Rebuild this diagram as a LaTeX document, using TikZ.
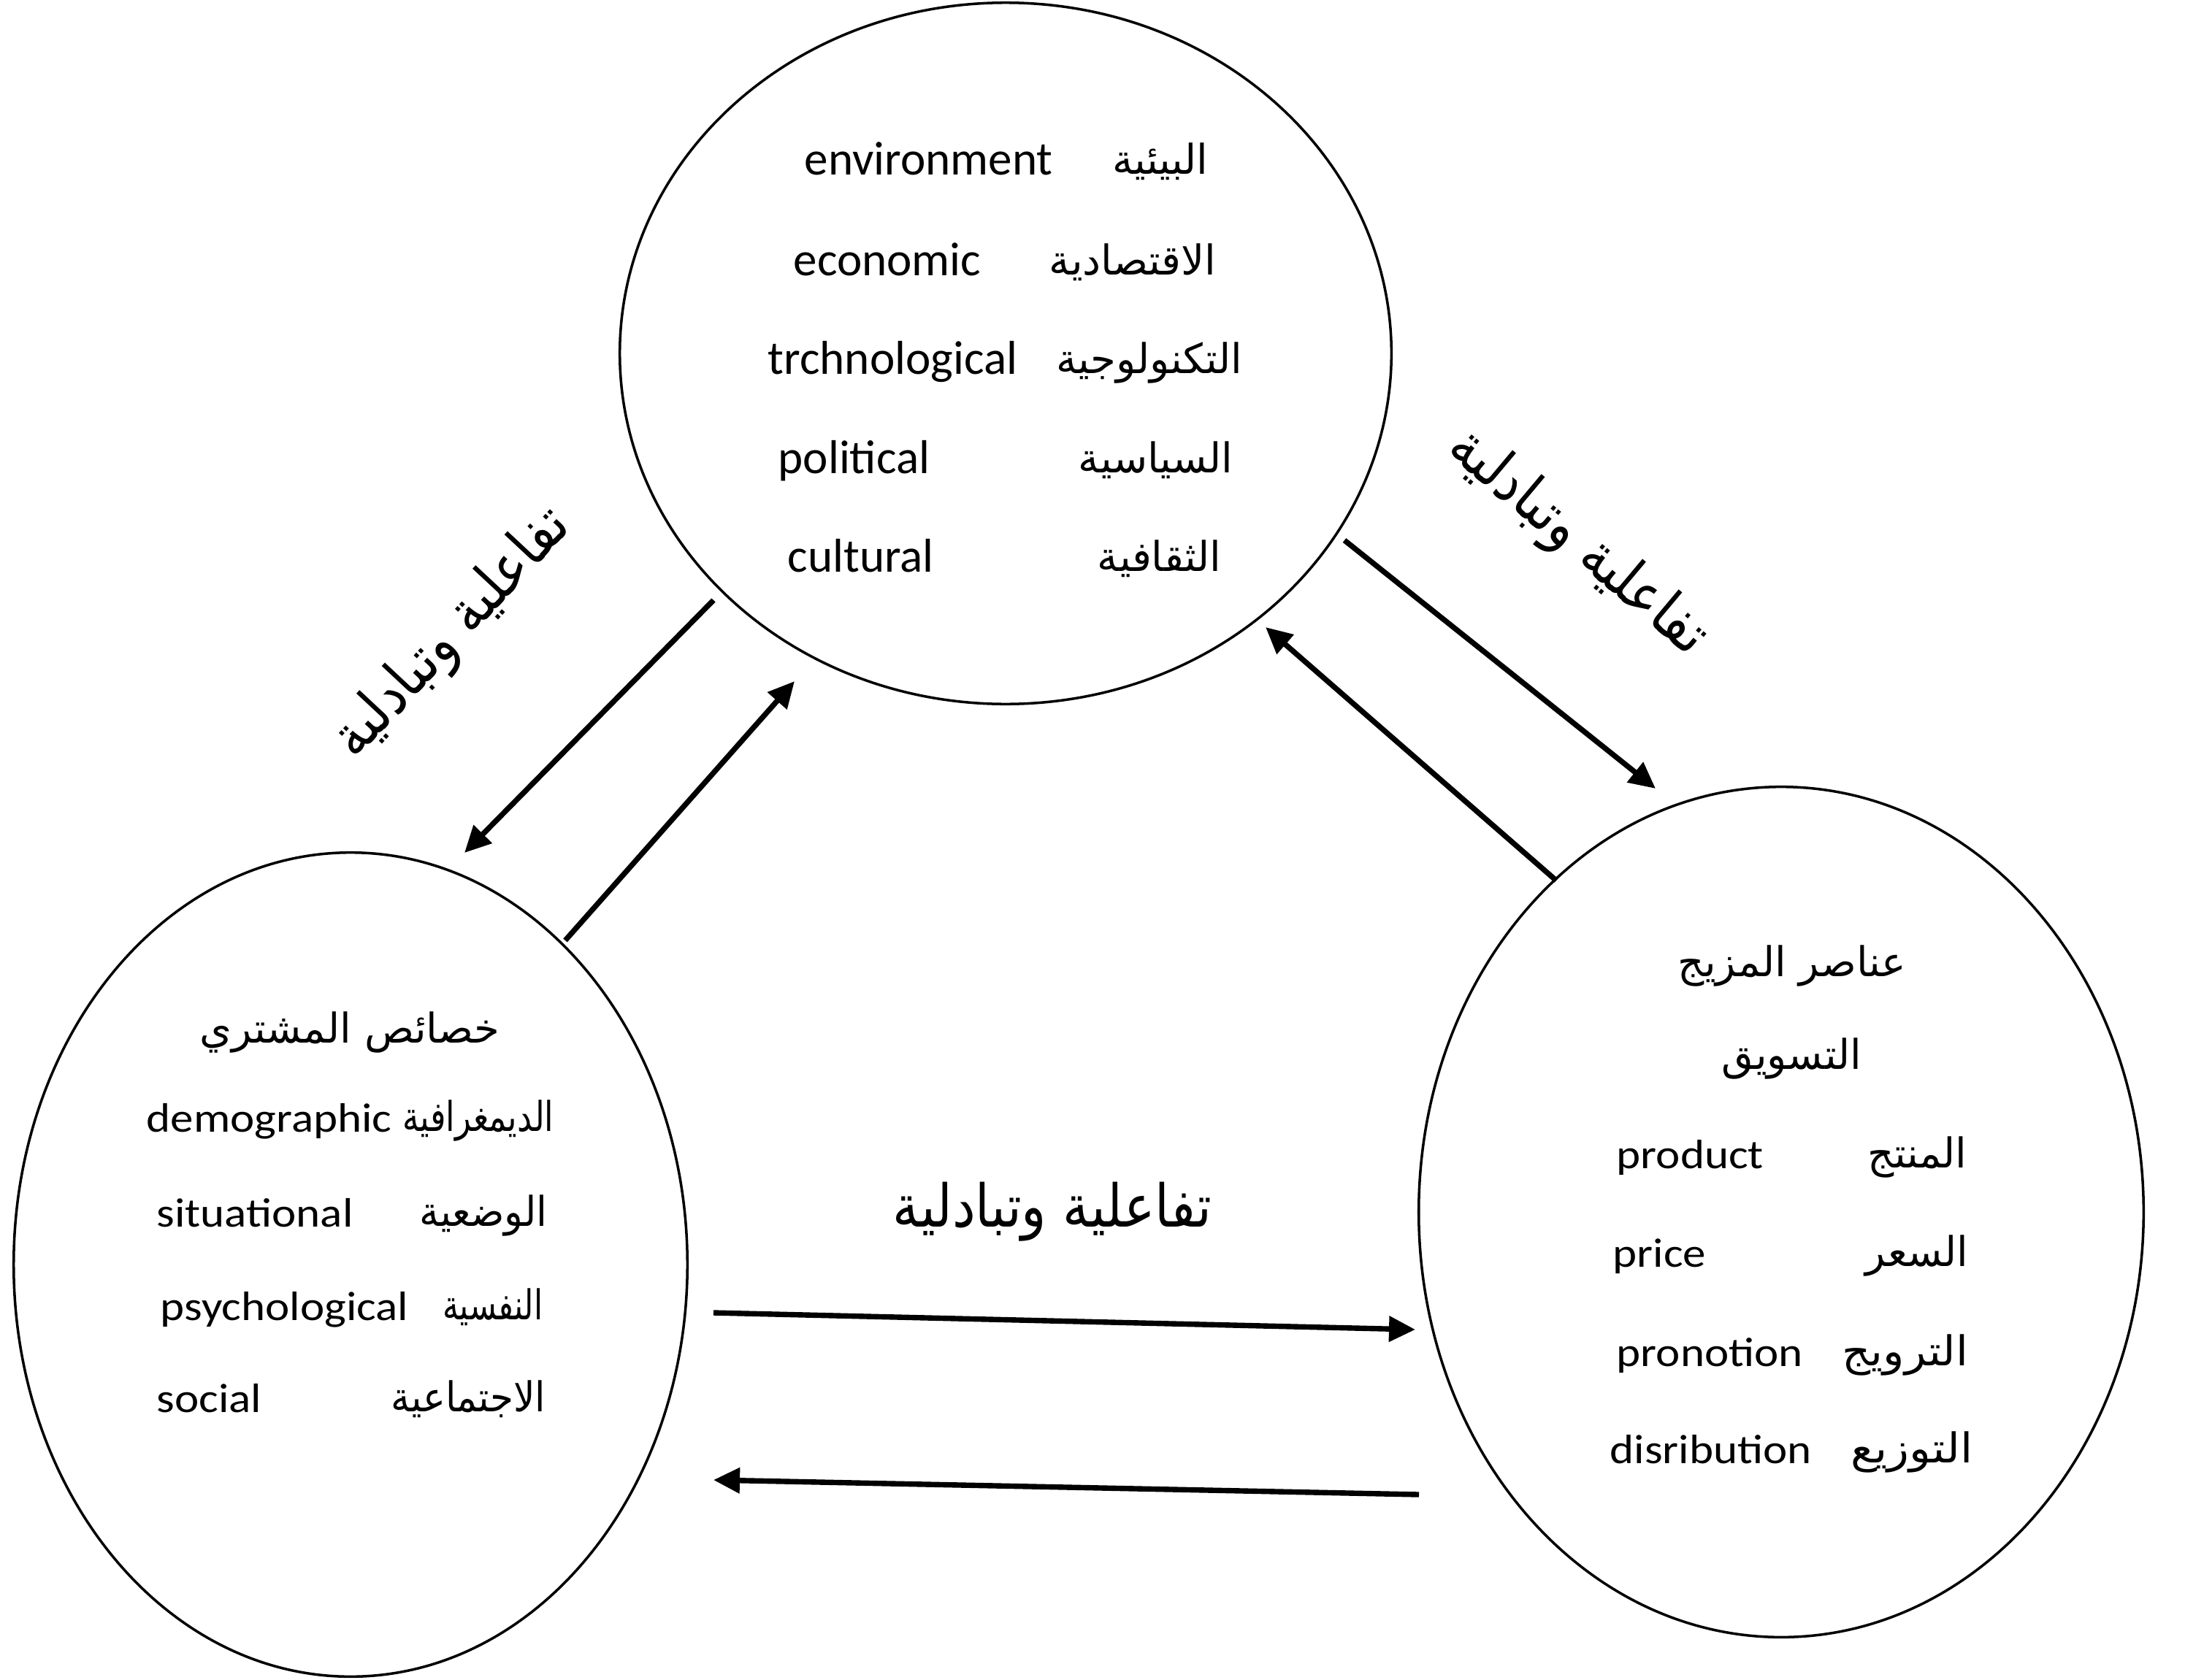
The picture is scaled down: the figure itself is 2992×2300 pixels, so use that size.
\documentclass[tikz,border=0pt]{standalone}
\usepackage{fontspec}
\setmainfont{Carlito}
\newfontfamily\widefont[FakeStretch=1.12]{Carlito}
\newfontfamily\arabicfont[Script=Arabic]{DejaVu Sans}
\usetikzlibrary{shapes.geometric,arrows.meta}
\TeXXeTstate=1
\newcommand{\ar}[1]{\arabicfont\beginR #1\endR}
\newcommand{\arn}[2]{\scalebox{#1}[1]{\ar{#2}}}
\begin{document}
\begin{tikzpicture}[x=0.01cm,y=-0.01cm,
  circ/.style={draw,ellipse,line width=1pt,inner sep=0pt,outer sep=0pt},
  link/.style={line width=2.1pt,-{Triangle[length=0.36cm,width=0.34cm]}},
  entxt/.style={anchor=mid west,inner sep=0pt,yshift=-0.12cm,font=\fontsize{18.5}{22}\selectfont},
  sidetxt/.style={anchor=mid west,inner sep=0pt,yshift=-0.12cm,font=\widefont\fontsize{16}{20}\selectfont},
  artxt/.style={anchor=mid east,inner sep=0pt,yshift=-0.11cm,font=\fontsize{16}{20}\selectfont},
  arctr/.style={anchor=mid,inner sep=0pt,yshift=-0.12cm,font=\fontsize{16}{20}\selectfont},
  bigar/.style={inner sep=0pt,font=\fontsize{23}{28}\selectfont}]
\useasboundingbox (0,0) rectangle (2992,2300);

% the three circles
\node[circ,minimum width=10.56cm,minimum height=9.6cm] (env) at (1377,484) {};
\node[circ,minimum width=9.22cm,minimum height=11.28cm] (buyer) at (480,1732) {};
\node[circ,minimum width=9.92cm,minimum height=11.64cm] (mix) at (2439,1660) {};

% environment factors
\node[entxt] (e1) at (1101,219) {environment};
\node[entxt] (e2) at (1086,357) {economic};
\node[entxt] (e3) at (1051,492) {trchnological};
\node[entxt] (e4) at (1065,628) {political};
\node[entxt] (e5) at (1078,763) {cultural};
\node[artxt] (a1) at (1655,219) {\ar{البيئية}};
\node[artxt] (a2) at (1666,357) {\ar{الاقتصادية}};
\node[artxt] (a3) at (1702,492) {\ar{التكنولوجية}};
\node[artxt] (a4) at (1689,628) {\ar{السياسية}};
\node[artxt] (a5) at (1673,763) {\ar{الثقافية}};

% buyer characteristics
\node[arctr] (bt) at (479,1408) {\arabicfont\beginR خصائص المشتري\endR};
\node[sidetxt] (b1) at (200,1530) {demographic};
\node[sidetxt] (b2) at (214,1660) {situational};
\node[sidetxt] (b3) at (219,1788) {psychological};
\node[sidetxt] (b4) at (214,1914) {social};
\node[artxt] (c1) at (759,1530) {\arn{0.8}{الديمغرافية}};
\node[artxt] (c2) at (750,1660) {\arn{0.95}{الوضعية}};
\node[artxt] (c3) at (744,1788) {\arn{0.78}{النفسية}};
\node[artxt] (c4) at (748,1914) {\arn{0.92}{الاجتماعية}};

% marketing mix elements
\node[arctr] (mt1) at (2454,1317) {\arabicfont\beginR عناصر المزيج\endR};
\node[arctr] (mt2) at (2453,1444) {\ar{التسويق}};
\node[sidetxt] (m1) at (2213,1580) {product};
\node[sidetxt] (m2) at (2208,1715) {price};
\node[sidetxt] (m3) at (2213,1851) {pronotion};
\node[sidetxt] (m4) at (2204,1984) {disribution};
\node[artxt] (n1) at (2694,1580) {\ar{المنتج}};
\node[artxt] (n2) at (2696,1715) {\ar{السعر}};
\node[artxt] (n3) at (2696,1851) {\arn{1.08}{الترويج}};
\node[artxt] (n4) at (2702,1984) {\arn{1.1}{التوزيع}};

% interaction labels
\node[bigar,rotate=47] (l1) at (620,868)
  {\scalebox{0.88}[1]{\arabicfont\beginR تفاعلية وتبادلية\endR}};
\node[bigar,rotate=-40] (l2) at (2160,744)
  {\scalebox{0.88}[1]{\arabicfont\beginR تفاعلية وتبادلية\endR}};
\node[bigar] (l3) at (1441,1660)
  {\scalebox{0.88}[1]{\arabicfont\beginR تفاعلية وتبادلية\endR}};

% arrow end points
\coordinate (p1s) at (977,822);
\coordinate (p1e) at (636,1168);
\coordinate (p2s) at (774,1288);
\coordinate (p2e) at (1088,933);
\coordinate (p3s) at (1841,740);
\coordinate (p3e) at (2267,1080);
\coordinate (p4s) at (2131,1206);
\coordinate (p4e) at (1733,859);
\coordinate (p5s) at (977,1798);
\coordinate (p5e) at (1938,1821);
\coordinate (p6s) at (1943,2047);
\coordinate (p6e) at (977,2027);

\draw[link] (p1s) -- (p1e);
\draw[link] (p2s) -- (p2e);
\draw[link] (p3s) -- (p3e);
\draw[link] (p4s) -- (p4e);
\draw[link] (p5s) -- (p5e);
\draw[link] (p6s) -- (p6e);
\end{tikzpicture}
\end{document}
